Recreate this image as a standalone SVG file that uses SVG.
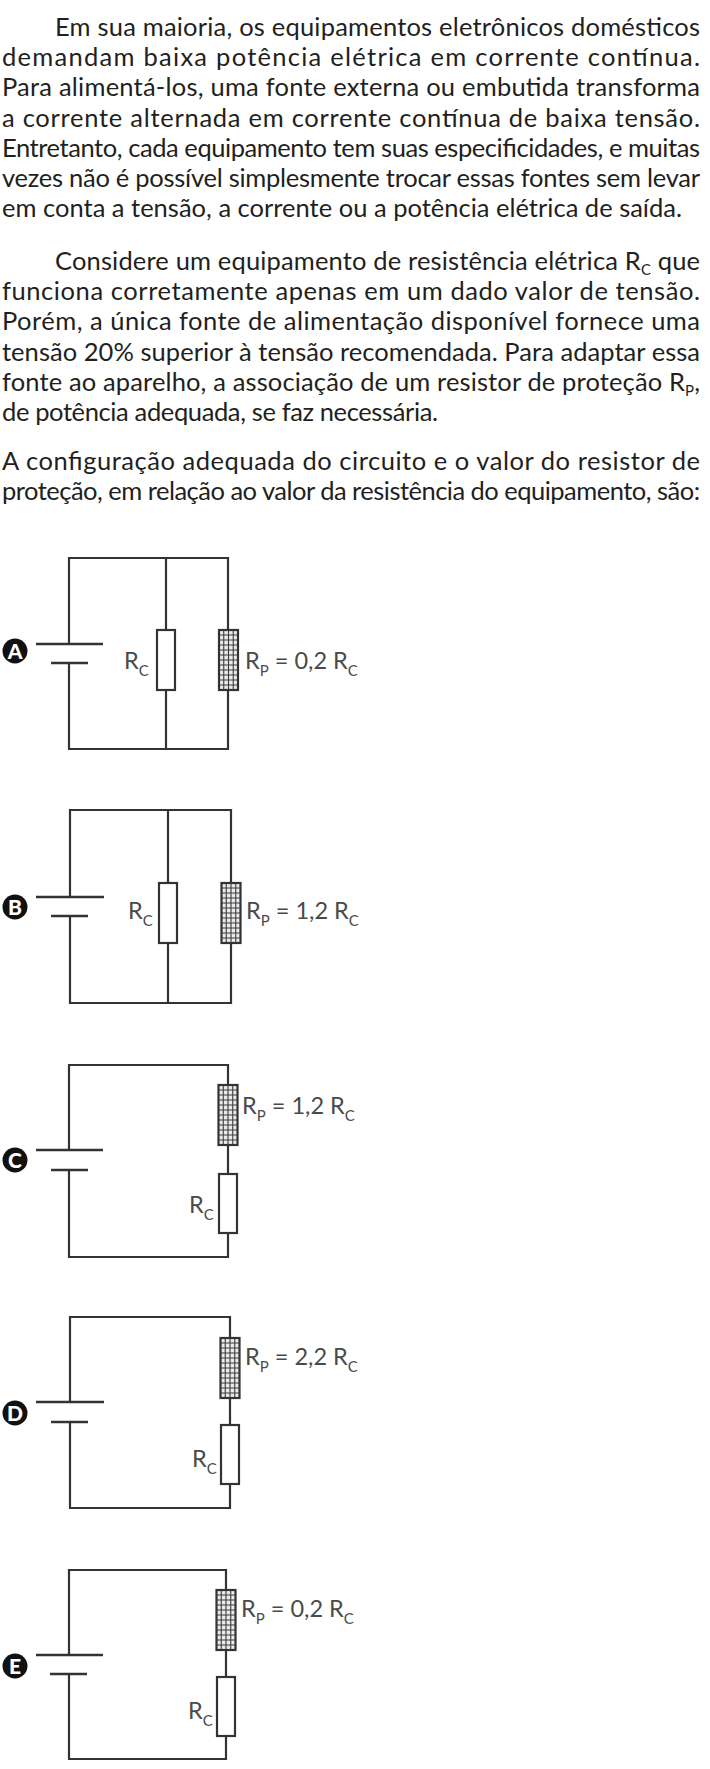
<svg xmlns="http://www.w3.org/2000/svg" xmlns:xlink="http://www.w3.org/1999/xlink" width="710" height="1769" viewBox="0 0 710 1769">
<style>
.t{font-family:Lato,"Open Sans","Liberation Sans",sans-serif;font-size:25.5px;fill:#231f20}
.lb{font-family:Lato,"Open Sans","Liberation Sans",sans-serif;font-size:23.5px;fill:#4a4a4a}
.sb{font-size:15px}
.w{fill:none;stroke:#333;stroke-width:2.2;stroke-linecap:square}
.plate{stroke:#333;stroke-width:2.6;fill:none}
.rc{fill:#fff;stroke:#333;stroke-width:2.2}
.opt{fill:#111}
.ol{font-family:Lato,"Liberation Sans",sans-serif;font-weight:900;font-size:21px;fill:#fff;text-anchor:middle}
</style>
<defs>
<g id="rp">
<rect x="0" y="0" width="19" height="60" fill="#eaeaea" stroke="none"/>
<path d="M4.75 0V60M9.5 0V60M14.25 0V60M0 5H19M0 10H19M0 15H19M0 20H19M0 25H19M0 30H19M0 35H19M0 40H19M0 45H19M0 50H19M0 55H19" stroke="#3c3c3c" stroke-width="1.1" fill="none"/>
<rect x="0" y="0" width="19" height="60" fill="none" stroke="#333" stroke-width="2.2"/>
</g>
</defs>

<g id="text">
<text class="t" x="55" y="36" textLength="645" lengthAdjust="spacing">Em sua maioria, os equipamentos eletrônicos domésticos</text>
<text class="t" x="2" y="66.2" textLength="698" lengthAdjust="spacing">demandam baixa potência elétrica em corrente contínua.</text>
<text class="t" x="2" y="96.4" textLength="698" lengthAdjust="spacing">Para alimentá-los, uma fonte externa ou embutida transforma</text>
<text class="t" x="2" y="126.6" textLength="698" lengthAdjust="spacing">a corrente alternada em corrente contínua de baixa tensão.</text>
<text class="t" x="2" y="156.8" textLength="698" lengthAdjust="spacing">Entretanto, cada equipamento tem suas especificidades, e muitas</text>
<text class="t" x="2" y="187" textLength="698" lengthAdjust="spacing">vezes não é possível simplesmente trocar essas fontes sem levar</text>
<text class="t" x="2" y="217.2" textLength="680" lengthAdjust="spacing">em conta a tensão, a corrente ou a potência elétrica de saída.</text>
<text class="t" x="55" y="270" textLength="645" lengthAdjust="spacing">Considere um equipamento de resistência elétrica R<tspan class="sb" dy="5">C</tspan><tspan dy="-5"> que</tspan></text>
<text class="t" x="2" y="300.2" textLength="698" lengthAdjust="spacing">funciona corretamente apenas em um dado valor de tensão.</text>
<text class="t" x="2" y="330.4" textLength="698" lengthAdjust="spacing">Porém, a única fonte de alimentação disponível fornece uma</text>
<text class="t" x="2" y="360.6" textLength="698" lengthAdjust="spacing">tensão 20% superior à tensão recomendada. Para adaptar essa</text>
<text class="t" x="2" y="390.8" textLength="698" lengthAdjust="spacing">fonte ao aparelho, a associação de um resistor de proteção R<tspan class="sb" dy="5">P</tspan><tspan dy="-5">,</tspan></text>
<text class="t" x="2" y="421" textLength="436" lengthAdjust="spacing">de potência adequada, se faz necessária.</text>
<text class="t" x="2" y="469.5" textLength="698" lengthAdjust="spacing">A configuração adequada do circuito e o valor do resistor de</text>
<text class="t" x="2" y="499.7" textLength="698" lengthAdjust="spacing">proteção, em relação ao valor da resistência do equipamento, são:</text>
</g>

<g id="connectors">
<path class="w" d="M69 644V558H228V630M166 558V630M166 690V749M228 690V749H69V663"/>
<path class="w" d="M70 897V810H231V883M168 810V883M168 943V1003M231 943V1003H70V916"/>
<path class="w" d="M69 1150V1065H228V1085M228 1145V1174M228 1233V1257H69V1170"/>
<path class="w" d="M70 1402V1317H230V1338M230 1396V1425M230 1484V1508H70V1422"/>
<path class="w" d="M69 1655V1570H226V1590M226 1649V1677M226 1736V1759H69V1674"/>
</g>

<g id="optA">
<circle class="opt" cx="15" cy="651" r="12.5"/><text class="ol" x="15" y="658.5">A</text>
<line class="plate" x1="36" y1="644" x2="103" y2="644"/><line class="plate" x1="51" y1="663" x2="88" y2="663"/>
<rect class="rc" x="157" y="630" width="18" height="60"/>
<use xlink:href="#rp" href="#rp" x="219" y="630"/>
<text class="lb" x="124" y="669">R<tspan class="sb" dy="7">C</tspan></text>
<text class="lb" x="245" y="669">R<tspan class="sb" dy="7">P</tspan><tspan dy="-7"> = 0,2 R</tspan><tspan class="sb" dy="7">C</tspan></text>
</g>

<g id="optB">
<circle class="opt" cx="15" cy="907" r="12.5"/><text class="ol" x="15" y="914.5">B</text>
<line class="plate" x1="36" y1="897" x2="104" y2="897"/><line class="plate" x1="51" y1="916" x2="88" y2="916"/>
<rect class="rc" x="159" y="883" width="18" height="60"/>
<use xlink:href="#rp" href="#rp" x="221.5" y="883"/>
<text class="lb" x="128" y="919">R<tspan class="sb" dy="7">C</tspan></text>
<text class="lb" x="246" y="919">R<tspan class="sb" dy="7">P</tspan><tspan dy="-7"> = 1,2 R</tspan><tspan class="sb" dy="7">C</tspan></text>
</g>

<g id="optC">
<circle class="opt" cx="15" cy="1160" r="12.5"/><text class="ol" x="15" y="1167.5">C</text>
<line class="plate" x1="36" y1="1150" x2="103" y2="1150"/><line class="plate" x1="51" y1="1170" x2="88" y2="1170"/>
<use xlink:href="#rp" href="#rp" x="218.5" y="1085"/>
<rect class="rc" x="219" y="1174" width="18" height="59"/>
<text class="lb" x="242" y="1114">R<tspan class="sb" dy="7">P</tspan><tspan dy="-7"> = 1,2 R</tspan><tspan class="sb" dy="7">C</tspan></text>
<text class="lb" x="189" y="1213">R<tspan class="sb" dy="7">C</tspan></text>
</g>

<g id="optD">
<circle class="opt" cx="15" cy="1413" r="12.5"/><text class="ol" x="15" y="1420.5">D</text>
<line class="plate" x1="36" y1="1402" x2="104" y2="1402"/><line class="plate" x1="51" y1="1422" x2="88" y2="1422"/>
<use xlink:href="#rp" href="#rp" x="220.5" y="1338"/>
<rect class="rc" x="221" y="1425" width="18" height="59"/>
<text class="lb" x="245" y="1365">R<tspan class="sb" dy="7">P</tspan><tspan dy="-7"> = 2,2 R</tspan><tspan class="sb" dy="7">C</tspan></text>
<text class="lb" x="192" y="1467">R<tspan class="sb" dy="7">C</tspan></text>
</g>

<g id="optE">
<circle class="opt" cx="15" cy="1666" r="12.5"/><text class="ol" x="15" y="1673.5">E</text>
<line class="plate" x1="36" y1="1655" x2="103" y2="1655"/><line class="plate" x1="50" y1="1674" x2="87" y2="1674"/>
<use xlink:href="#rp" href="#rp" x="216.5" y="1590"/>
<rect class="rc" x="217" y="1677" width="18" height="59"/>
<text class="lb" x="241" y="1617">R<tspan class="sb" dy="7">P</tspan><tspan dy="-7"> = 0,2 R</tspan><tspan class="sb" dy="7">C</tspan></text>
<text class="lb" x="188" y="1719">R<tspan class="sb" dy="7">C</tspan></text>
</g>
</svg>
